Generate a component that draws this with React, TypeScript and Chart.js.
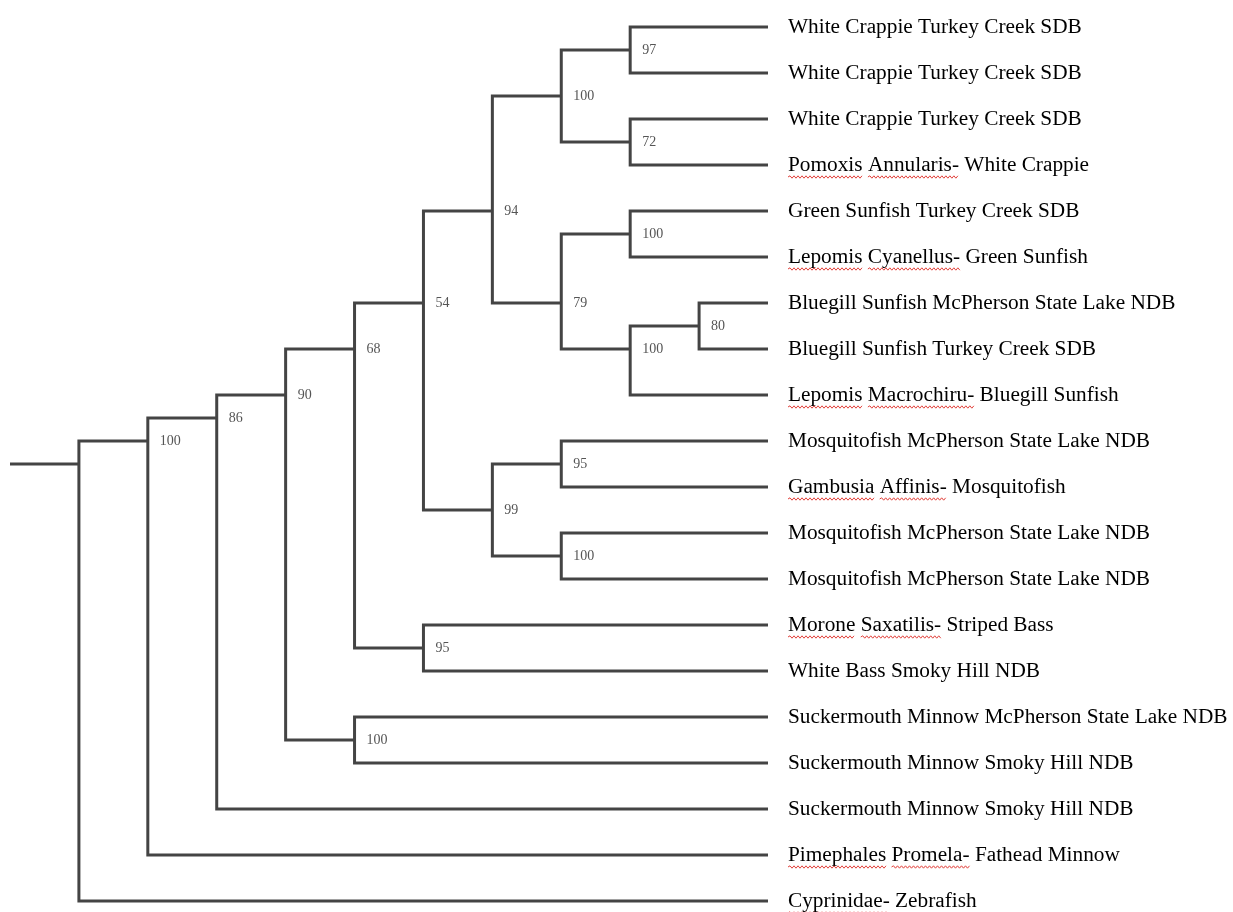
import React, { useEffect, useRef } from "react";
import { Chart, registerables } from "chart.js";

Chart.register(...registerables);

// Leaf (tip) labels, top to bottom
const leafNames: string[] = [
  "White Crappie Turkey Creek SDB",
  "White Crappie Turkey Creek SDB",
  "White Crappie Turkey Creek SDB",
  "Pomoxis Annularis- White Crappie",
  "Green Sunfish Turkey Creek SDB",
  "Lepomis Cyanellus- Green Sunfish",
  "Bluegill Sunfish McPherson State Lake NDB",
  "Bluegill Sunfish Turkey Creek SDB",
  "Lepomis Macrochiru- Bluegill Sunfish",
  "Mosquitofish McPherson State Lake NDB",
  "Gambusia Affinis- Mosquitofish",
  "Mosquitofish McPherson State Lake NDB",
  "Mosquitofish McPherson State Lake NDB",
  "Morone Saxatilis- Striped Bass",
  "White Bass Smoky Hill NDB",
  "Suckermouth Minnow McPherson State Lake NDB",
  "Suckermouth Minnow Smoky Hill NDB",
  "Suckermouth Minnow Smoky Hill NDB",
  "Pimephales Promela- Fathead Minnow",
  "Cyprinidae- Zebrafish",
];

// Internal nodes: depth (cladogram level), bootstrap support, children
const nodeDepth: number[] = [1, 2, 3, 4, 5, 6, 7, 8, 9, 9, 8, 9, 9, 10, 7, 8, 8, 6, 5];
const nodeSupport: (number | null)[] = [null, 100, 86, 90, 68, 54, 94, 100, 97, 72, 79, 100, 100, 80, 99, 95, 100, 95, 100];
const nodeChildren: string[][] = [
  ["N1", "L19"],
  ["N2", "L18"],
  ["N3", "L17"],
  ["N4", "N18"],
  ["N5", "N17"],
  ["N6", "N14"],
  ["N7", "N10"],
  ["N8", "N9"],
  ["L0", "L1"],
  ["L2", "L3"],
  ["N11", "N12"],
  ["L4", "L5"],
  ["N13", "L8"],
  ["L6", "L7"],
  ["N15", "N16"],
  ["L9", "L10"],
  ["L11", "L12"],
  ["L13", "L14"],
  ["L15", "L16"],
];
const leafDepth = 11;
const rootStubDepth = 0;

// ---- tree layout helpers (positions in data units) ----
function leavesOf(ref: string): number[] {
  const idx = parseInt(ref.slice(1), 10);
  if (ref[0] === "L") return [idx];
  return nodeChildren[idx].flatMap(leavesOf);
}
function refY(ref: string): number {
  const ls = leavesOf(ref);
  return ls.reduce((a, b) => a + b, 0) / ls.length;
}
function refDepth(ref: string): number {
  const idx = parseInt(ref.slice(1), 10);
  return ref[0] === "L" ? leafDepth : nodeDepth[idx];
}
const nodeY: number[] = nodeChildren.map((_, i) => refY("N" + i));

const LINE_COLOR = "#444444";
const SERIF = '"Liberation Serif", "Times New Roman", serif';
const LABEL_SIZE = 21.3;

function buildDatasets() {
  const ds: any[] = [];
  ds.push({
    data: [
      { x: rootStubDepth, y: nodeY[0] },
      { x: nodeDepth[0], y: nodeY[0] },
    ],
  });
  nodeChildren.forEach((ch, i) => {
    const [a, b] = ch;
    ds.push({
      data: [
        { x: refDepth(a), y: refY(a) },
        { x: nodeDepth[i], y: refY(a) },
        { x: nodeDepth[i], y: refY(b) },
        { x: refDepth(b), y: refY(b) },
      ],
    });
  });
  return ds.map((d) => ({
    ...d,
    borderColor: LINE_COLOR,
    borderWidth: 3,
    pointRadius: 0,
    tension: 0,
    fill: false,
    clip: false,
    borderJoinStyle: "miter",
    borderCapStyle: "butt",
  }));
}

const treePlugin = {
  id: "treeLabels",
  afterDatasetsDraw(chart: any) {
    const { ctx, scales, chartArea } = chart;
    const xs = scales.x;
    const ys = scales.y;
    ctx.save();
    // bootstrap support values
    ctx.font = `14px ${SERIF}`;
    ctx.fillStyle = "#555555";
    ctx.textAlign = "left";
    ctx.textBaseline = "middle";
    nodeSupport.forEach((s, i) => {
      if (s == null) return;
      ctx.fillText(String(s), xs.getPixelForValue(nodeDepth[i]) + 12, ys.getPixelForValue(nodeY[i]));
    });
    // spell-check style wavy underlines under latin names
    ctx.font = `${LABEL_SIZE}px ${SERIF}`;
    ctx.strokeStyle = "#e0403a";
    ctx.lineWidth = 1;
    const x0 = chartArea.right + 20;
    leafNames.forEach((name, i) => {
      const dash = name.indexOf("- ");
      if (dash < 0) return;
      const prefix = name.slice(0, dash + 1);
      const yBase = ys.getPixelForValue(i) + 12;
      let offset = 0;
      prefix.split(" ").forEach((word) => {
        const start = x0 + ctx.measureText(prefix.slice(0, offset)).width;
        const w = ctx.measureText(word).width;
        ctx.beginPath();
        let up = true;
        ctx.moveTo(start, yBase);
        for (let px = start + 2; px <= start + w; px += 2) {
          ctx.lineTo(px, yBase + (up ? -1.2 : 1.2));
          up = !up;
        }
        ctx.stroke();
        offset += word.length + 1;
      });
    });
    ctx.restore();
  },
};

export default function App() {
  const ref = useRef<HTMLCanvasElement | null>(null);
  useEffect(() => {
    if (!ref.current) return;
    const chart = new Chart(ref.current, {
      type: "line",
      data: { datasets: buildDatasets() },
      options: {
        animation: false,
        responsive: false,
        layout: { padding: { left: 10, right: 0, top: 27, bottom: 11 } },
        plugins: { legend: { display: false }, tooltip: { enabled: false } },
        scales: {
          x: { type: "linear", min: rootStubDepth, max: leafDepth, display: false },
          y: {
            type: "linear",
            position: "right",
            reverse: true,
            min: 0,
            max: leafNames.length - 1,
            grid: { display: false, drawTicks: false },
            border: { display: false },
            ticks: {
              stepSize: 1,
              maxTicksLimit: leafNames.length,
              autoSkip: false,
              padding: 20,
              color: "#000000",
              font: { family: SERIF, size: LABEL_SIZE, lineHeight: 1 },
              callback: (v: any) => leafNames[Math.round(Number(v))] ?? "",
            },
            afterFit: (s: any) => {
              s.width = 465;
              s.paddingTop = 0;
              s.paddingBottom = 0;
            },
          },
        },
      } as any,
      plugins: [treePlugin],
    });
    return () => chart.destroy();
  }, []);
  return (
    <div style={{ position: "fixed", left: 0, top: 0, width: 1233, height: 912, background: "#ffffff" }}>
      <canvas ref={ref} width={1233} height={912} style={{ display: "block" }} />
    </div>
  );
}
